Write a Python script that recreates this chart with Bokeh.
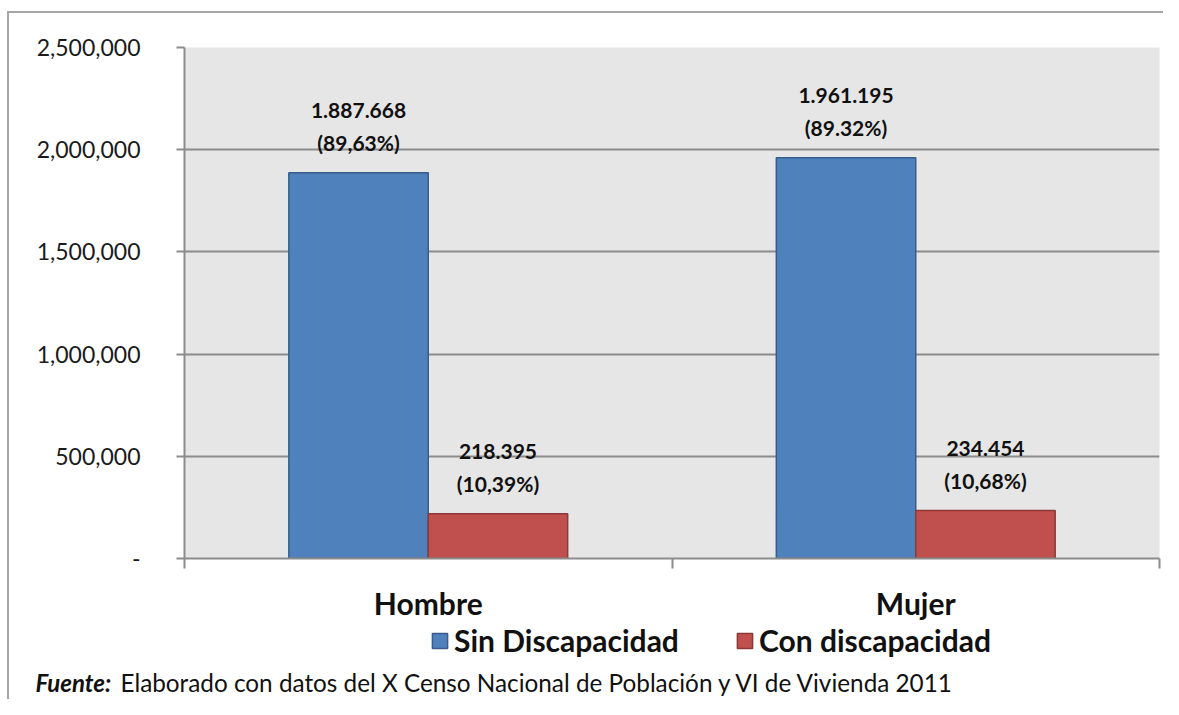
from bokeh.plotting import figure
from bokeh.models import (Range1d, FixedTicker, NumeralTickFormatter, Legend, LegendItem,
                          ColumnDataSource, Label)
from bokeh.layouts import column
from bokeh.transform import dodge
from bokeh.core.properties import value
from bokeh.embed import file_html
from bokeh.resources import INLINE

categories = ["Hombre", "Mujer"]
sin_disc = [1887668, 1961195]
con_disc = [218395, 234454]
sin_lbl1 = ["1.887.668", "1.961.195"]
sin_lbl2 = ["(89,63%)", "(89.32%)"]
con_lbl1 = ["218.395", "234.454"]
con_lbl2 = ["(10,39%)", "(10,68%)"]
y_ticks = [0, 500000, 1000000, 1500000, 2000000, 2500000]
series_names = ["Sin Discapacidad", "Con discapacidad"]
series_fill = ["#4F81BD", "#C0504D"]
series_line = ["#385D8A", "#8C3836"]
source_head = "Fuente:"
source_note = "Elaborado con datos del X Censo Nacional de Población y VI de Vivienda 2011"

FONT = "Lato"
centers = [i + 0.5 for i in range(len(categories))]
src = ColumnDataSource(dict(x=centers, sin=sin_disc, con=con_disc,
                            s1=sin_lbl1, s2=sin_lbl2, c1=con_lbl1, c2=con_lbl2))

p = figure(width=1154, height=610, x_range=Range1d(0, len(categories)),
           y_range=Range1d(0, 2500000), output_backend="svg", toolbar_location=None,
           min_border_left=175, min_border_right=4, min_border_top=34, min_border_bottom=63)
p.frame_align = False
p.background_fill_color = "#E6E6E6"
p.border_fill_color = "white"
p.outline_line_color = None

# grid
p.xgrid.grid_line_color = None
p.ygrid.ticker = FixedTicker(ticks=y_ticks)
p.ygrid.grid_line_color = "#8C8C8C"
p.ygrid.grid_line_width = 2

# y axis
p.yaxis.ticker = FixedTicker(ticks=y_ticks)
p.yaxis.formatter = NumeralTickFormatter(format="0,0")
p.yaxis.major_label_overrides = {0: "-"}
p.yaxis.major_label_text_font = FONT
p.yaxis.major_label_text_font_size = "23px"
p.yaxis.major_label_text_color = "#1A1A1A"
p.yaxis.major_label_standoff = 36
p.yaxis.major_tick_out = 8
p.yaxis.major_tick_in = 0
p.yaxis.minor_tick_line_color = None
p.yaxis.axis_line_color = "#8C8C8C"
p.yaxis.axis_line_width = 2
p.yaxis.major_tick_line_color = "#8C8C8C"
p.yaxis.major_tick_line_width = 2

# x axis
p.xaxis.ticker = FixedTicker(ticks=centers, minor_ticks=[0, 1, 2])
p.xaxis.major_label_overrides = {c: n for c, n in zip(centers, categories)}
p.xaxis.major_label_text_font = FONT
p.xaxis.major_label_text_font_style = "bold"
p.xaxis.major_label_text_font_size = "30px"
p.xaxis.major_label_text_color = "#111111"
p.xaxis.major_label_standoff = 16
p.xaxis.major_tick_line_color = None
p.xaxis.major_tick_out = 10
p.xaxis.major_tick_in = 0
p.xaxis.minor_tick_line_color = "#8C8C8C"
p.xaxis.minor_tick_line_width = 2
p.xaxis.minor_tick_out = 10
p.xaxis.minor_tick_in = 0
p.xaxis.axis_line_color = "#8C8C8C"
p.xaxis.axis_line_width = 2

bw = 0.286
p.vbar(x=dodge("x", -bw / 2, range=p.x_range), top="sin", width=bw, source=src,
       fill_color=series_fill[0], line_color=series_line[0], line_width=1.5)
p.vbar(x=dodge("x", bw / 2, range=p.x_range), top="con", width=bw, source=src,
       fill_color=series_fill[1], line_color=series_line[1], line_width=1.5)

for col, ycol, dx, off in [("s1", "sin", -bw / 2, -62), ("s2", "sin", -bw / 2, -30),
                           ("c1", "con", bw / 2, -62), ("c2", "con", bw / 2, -30)]:
    p.text(x=dodge("x", dx, range=p.x_range), y=ycol, text=col, source=src, y_offset=off,
           text_align="center", text_baseline="middle", text_font=value(FONT),
           text_font_style="bold", text_font_size="21px", text_color="#111111")

# lower strip: legend and source note
lp = figure(width=1154, height=76, x_range=Range1d(0, 1), y_range=Range1d(0, 1),
            output_backend="svg", toolbar_location=None, min_border=0,
            x_axis_location=None, y_axis_location=None)
lp.frame_align = False
lp.grid.visible = False
lp.outline_line_color = None
lp.background_fill_color = "white"
lp.border_fill_color = "white"

# proxy renderers for the legend (kept outside the visible range)
items = []
for name, fc, lc in zip(series_names, series_fill, series_line):
    r = lp.vbar(x=[-5], top=[-5], bottom=[-6], width=0.1,
                fill_color=fc, line_color=lc, line_width=1.5)
    items.append(LegendItem(label=name, renderers=[r]))

legend = Legend(items=items, location=(421, 41), orientation="horizontal",
                label_text_font=FONT, label_text_font_style="bold",
                label_text_font_size="30px", label_text_color="#111111",
                glyph_width=19, glyph_height=19, label_standoff=5, spacing=56,
                padding=0, margin=0, border_line_color=None, background_fill_alpha=0)
lp.add_layout(legend, "center")

lp.add_layout(Label(x=26, y=17, x_units="screen", y_units="screen", text=source_head,
                    text_font=FONT, text_font_style="bold italic", text_font_size="24px",
                    text_baseline="middle", text_color="#111111"))
lp.add_layout(Label(x=111, y=17, x_units="screen", y_units="screen", text=source_note,
                    text_font=FONT, text_font_size="24.3px", text_baseline="middle",
                    text_color="#111111"))

layout = column(p, lp, spacing=0,
                styles={"margin-left": "7px", "margin-top": "11px",
                        "border-left": "2px solid #A6A6A6", "border-top": "2px solid #A6A6A6"})

open("out.html", "w").write(file_html(layout, INLINE))
